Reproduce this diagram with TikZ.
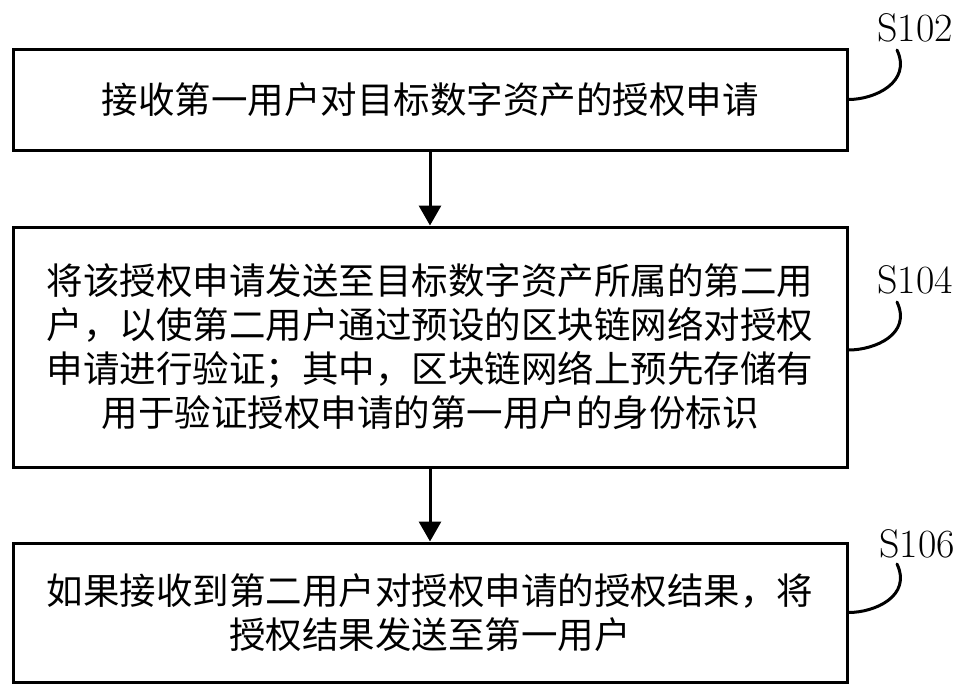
\documentclass[tikz,border=0pt]{standalone}
\usepackage{fontspec}
\newfontfamily\cjk{Noto Sans CJK SC}
\usetikzlibrary{arrows.meta}
\tikzset{
  stepbox/.style={draw=black, line width=3pt, minimum width=834pt, inner sep=0pt,
    font=\cjk\fontsize{36.5}{44}\selectfont, align=center},
  steplabel/.style={font=\fontsize{40}{44}\selectfont, inner sep=0pt},
  flow/.style={line width=3pt, -{Triangle[width=22pt,length=20pt]}},
  leader/.style={line width=3pt, line cap=round},
}
\begin{document}
\begin{tikzpicture}[x=1pt,y=-1pt]
\useasboundingbox (0,0) rectangle (971,697);
\node[stepbox, minimum height=101pt] (b1) at (430,99.5) {接收第一用户对目标数字资产的授权申请};
\node[stepbox, minimum height=240pt] (b2) at (430,347) {将该授权申请发送至目标数字资产所属的第二用\\户，以使第二用户通过预设的区块链网络对授权\\申请进行验证；其中，区块链网络上预先存储有\\用于验证授权申请的第一用户的身份标识};
\node[stepbox, minimum height=139pt] (b3) at (430,612.5) {如果接收到第二用户对授权申请的授权结果，将\\授权结果发送至第一用户};
\draw[flow] (b1.south) -- (b2.north);
\draw[flow] (b2.south) -- (b3.north);
\node[steplabel] (l1) at (915,28) {S102};
\node[steplabel] (l2) at (915,280) {S104};
\node[steplabel] (l3) at (917,544) {S106};
\coordinate (e1) at (897,50);
\coordinate (e2) at (897,302);
\coordinate (e3) at (897,564);
\draw[leader] (b1.east) .. controls (875,99.5) and (912,82) .. (e1);
\draw[leader] ([yshift=-3pt]b2.east) .. controls (875,350) and (912,334) .. (e2);
\draw[leader] (b3.east) .. controls (875,612.5) and (912,596) .. (e3);
\end{tikzpicture}
\end{document}
